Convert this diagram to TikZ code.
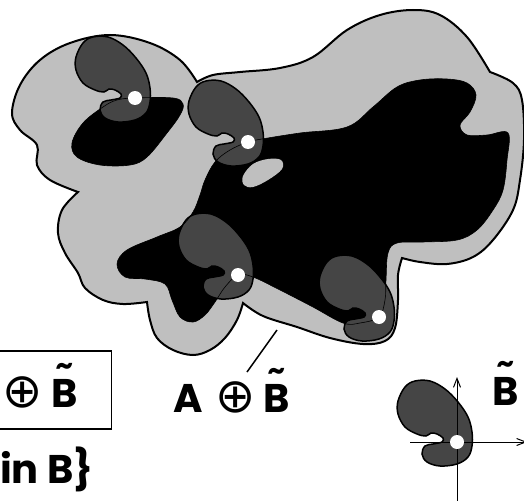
\documentclass[tikz,border=0pt]{standalone}
\usepackage{fontspec}
\setmainfont{Poppins}
\newfontfamily\symbfont{DejaVu Sans}
\usetikzlibrary{arrows.meta}
\definecolor{dilgrey}{gray}{0.75}
\definecolor{beangrey}{gray}{0.27}
\newcommand{\tildeB}{\ooalign{B\cr\hidewidth\raisebox{0.33em}{\char"02DC}\hidewidth\cr}}
\newcommand{\oplusglyph}{{\symbfont\mdseries\fontsize{48}{48}\selectfont ⊕}}
\newcommand{\setAmain}{plot[smooth cycle, tension=0.6] coordinates {
    (205,180) (215,162) (230,150) (248,142) (262,139) (300,133) (347,127)
    (373,107) (397,87) (420,80) (447,79) (467,83) (476,95) (470,112)
    (460,125) (467,135) (487,135) (508,133) (507,160) (503,190) (493,210)
    (477,230) (457,240) (423,242) (397,243) (388,253) (386,280) (385,300)
    (379,317) (360,323) (343,323) (313,307) (280,290) (253,277) (238,275)
    (225,287) (215,302) (205,315) (193,322) (180,317) (172,300) (165,284)
    (145,279) (125,277) (117,264) (127,250) (157,237) (180,227) (193,212)
    (200,195)}}
\newcommand{\setAblob}{plot[smooth cycle, tension=0.6] coordinates {
    (135,98) (173,98) (183,104) (180,115) (167,133) (147,157) (130,165)
    (100,165) (77,157) (72,143) (83,123) (103,107) (117,100)}}

\begin{document}
\begin{tikzpicture}[
        x=1pt, y=-1pt,
        region edge/.style={
            draw=black,
            line width=2pt,
            fill=dilgrey
        },
        bean/.pic={
            \draw[line width=1.5pt, fill=beangrey]
                plot[smooth cycle, tension=0.6] coordinates {
                (-42,-61) (-27,-61) (-12,-53) (1,-40) (11,-25) (15,-10)
                (15,4) (11,15) (0,22) (-17,24) (-30,20) (-35,12) (-32,4)
                (-24,2) (-15,0) (-14,-4) (-20,-8) (-26,-9) (-31,-6)
                (-40,-8) (-52,-15) (-59,-28) (-59,-41) (-52,-55)};
        },
        origin dot/.style={
            fill=white,
            circle,
            inner sep=0pt,
            minimum size=14pt
        },
        math label/.style={
            font=\fontsize{40}{44}\selectfont\bfseries,
            inner sep=0pt
        },
        axis line/.style={line width=1pt, -{Straight Barb[length=9pt,width=7pt]}},
        leader/.style={line width=1.5pt}
    ]
        \useasboundingbox (0,0) rectangle (524,500);
        \clip (0,0) rectangle (524,500);

        \draw[region edge]
            plot[smooth, tension=0.6] coordinates {(78,192) (50,180) (37,165)
                (37,145) (20,130) (12,113) (20,85) (40,60) (70,43) (110,35)
                (150,43) (180,60) (197,82)}
            -- plot[smooth, tension=0.6] coordinates {(197,82) (213,75) (240,72)
                (280,68) (313,57) (347,30) (380,15) (413,10) (440,15) (467,37)
                (490,72)}
            -- plot[smooth, tension=0.6] coordinates {(490,72) (513,83) (522,100)
                (524,140) (520,180) (513,210) (493,240) (473,257) (447,264)
                (420,262) (402,258)}
            -- plot[smooth, tension=0.6] coordinates {(402,258) (398,275) (398,300)
                (395,328) (385,341) (363,344) (330,338) (297,327) (263,316)
                (243,303)}
            -- plot[smooth, tension=0.6] coordinates {(243,303) (237,320) (225,338)
                (210,350) (193,355) (173,350) (157,338) (150,320) (147,302)}
            -- plot[smooth, tension=0.6] coordinates {(147,302) (123,304) (103,300)
                (85,288) (78,273) (65,253) (58,233) (62,210) (78,192)}
            -- cycle;

        \fill[black] \setAmain;
        \fill[black] \setAblob;
        \fill[dilgrey] plot[smooth cycle, tension=0.6] coordinates {(243,176)
            (253,164) (268,159) (281,160) (282,169) (268,180) (253,187) (244,185)};

        \pic at (135,98) {bean};
        \pic at (248,142) {bean};
        \pic at (238,275) {bean};
        \pic at (379,317) {bean};
        \draw[line width=0.6pt] \setAmain;
        \draw[line width=0.6pt] \setAblob;

        \pic at (457,442) {bean};
        \coordinate (axisWest) at (410,442);
        \coordinate (axisEast) at (527,442);
        \coordinate (axisSouth) at (457,504);
        \coordinate (axisNorth) at (457,377);
        \draw[axis line] (axisWest) -- (axisEast);
        \draw[axis line] (axisSouth) -- (axisNorth);

        \node[origin dot] (dotTopLeft) at (135,98) {};
        \node[origin dot] (dotTop) at (248,142) {};
        \node[origin dot] (dotLeft) at (238,275) {};
        \node[origin dot] (dotRight) at (379,317) {};
        \node[origin dot] (dotRef) at (457,442) {};

        \node[draw, line width=1.5pt, minimum width=160pt, minimum height=78pt,
            anchor=north east] (formulaBox) at (112,350) {};
        \node[math label, anchor=base west] (boxText) at (2,407)
            {\oplusglyph\hspace{9pt}\tildeB};
        \node[math label, anchor=base west] (dilLabel) at (173,412)
            {A\hspace{13pt}\oplusglyph\hspace{8pt}\tildeB};
        \node[math label, anchor=base west] (setLabel) at (0,483) {in B\}};
        \node[math label, anchor=base west] (beanLabel) at (492,405) {\tildeB};

        \coordinate (dilEdge) at (277,330);
        \coordinate (leaderEnd) at (247,372);
        \draw[leader] (leaderEnd) -- (dilEdge);
    \end{tikzpicture}
\end{document}
